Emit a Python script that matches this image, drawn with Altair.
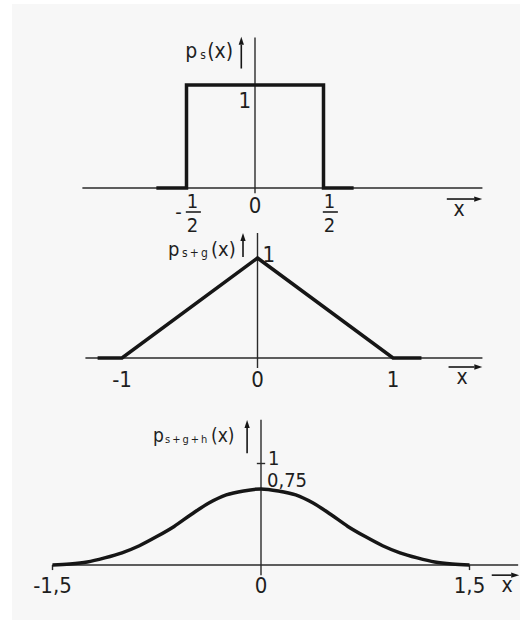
import altair as alt
import pandas as pd

# ---------------- data ----------------
# p_s(x): rectangular density on [-1/2, 1/2]
rect_x = [-0.72, -0.5, -0.5, 0.5, 0.5, 0.72]
rect_y = [0.0, 0.0, 1.0, 1.0, 0.0, 0.0]

# p_{s+g}(x): triangular density on [-1, 1]
tri_x = [-1.18, -1.0, 0.0, 1.0, 1.21]
tri_y = [0.0, 0.0, 1.0, 0.0, 0.0]

# p_{s+g+h}(x): bell shaped density on [-1.5, 1.5]
bell_x = [-1.5, -1.375, -1.25, -1.125, -1.0, -0.875, -0.75, -0.625, -0.5, -0.375,
          -0.25, -0.125, 0.0, 0.125, 0.25, 0.375, 0.5, 0.625, 0.75, 0.875,
          1.0, 1.125, 1.25, 1.375, 1.5]
bell_y = [0.0, 0.01, 0.03, 0.07, 0.12, 0.19, 0.28, 0.38, 0.5, 0.61,
          0.69, 0.73, 0.75, 0.73, 0.69, 0.61, 0.5, 0.38, 0.28, 0.19,
          0.12, 0.07, 0.03, 0.01, 0.0]

# tick labels on the x axes
ticks1 = [-0.5, 0.5]          # drawn as stacked fractions 1/2
ticks2 = [-1.0, 0.0, 1.0]
labels2 = ["-1", "0", "1"]
ticks3 = [-1.5, 0.0, 1.5]
labels3 = ["-1,5", "0", "1,5"]

# axis extents (data units)
xaxis1 = (-1.26, 1.66)
xaxis2 = (-1.27, 1.66)
xaxis3 = (-1.5, 1.85)
yaxis1 = (-0.05, 1.46)
yaxis2 = (-0.10, 1.25)
yaxis3 = (-0.10, 1.43)

FONT = "Liberation Sans Narrow, DejaVu Sans Condensed, Liberation Sans, sans-serif"
INK = "#161616"
AXIS = "#2a2a2a"
W = 508

UP = "M0,-1L0.33,0L-0.33,0Z"
RIGHT = "M1,0L0,-0.33L0,0.33Z"


def doms(zero_px, ppu_x, base_px, ppu_y, height):
    xd = [-zero_px / ppu_x, (W - zero_px) / ppu_x]
    yd = [-(height - base_px) / ppu_y, base_px / ppu_y]
    return xd, yd


def enc_x(field, dom):
    return alt.X(field, type="quantitative",
                 scale=alt.Scale(domain=dom, nice=False, zero=False), axis=None)


def enc_y(field, dom):
    return alt.Y(field, type="quantitative",
                 scale=alt.Scale(domain=dom, nice=False, zero=False), axis=None)


def curve(xs, ys, xd, yd, interp="linear"):
    df = pd.DataFrame({"x": xs, "y": ys, "i": range(len(xs))})
    return alt.Chart(df).mark_line(color=INK, strokeWidth=3.5, interpolate=interp,
                                   strokeJoin="miter").encode(
        x=enc_x("x", xd), y=enc_y("y", yd), order="i:Q")


def hrule(x0, x1, y, xd, yd, width=1.4, color=AXIS):
    df = pd.DataFrame({"x": x0 if isinstance(x0, list) else [x0],
                       "x2": x1 if isinstance(x1, list) else [x1]})
    df["y"] = y
    return alt.Chart(df).mark_rule(color=color, strokeWidth=width).encode(
        x=enc_x("x", xd), x2="x2", y=enc_y("y", yd))


def vrule(x, y0, y1, xd, yd, width=1.4, color=AXIS):
    df = pd.DataFrame({"x": [x], "y": [y0], "y2": [y1]})
    return alt.Chart(df).mark_rule(color=color, strokeWidth=width).encode(
        x=enc_x("x", xd), y=enc_y("y", yd), y2="y2")


def head(x, y, shape, xd, yd, size=256):
    df = pd.DataFrame({"x": [x], "y": [y]})
    return alt.Chart(df).mark_point(shape=shape, filled=True, size=size, color=INK,
                                    opacity=1, strokeWidth=0).encode(
        x=enc_x("x", xd), y=enc_y("y", yd))


def text(xs, ys, ts, xd, yd, size=22, align="center", baseline="alphabetic",
         dx=0, dy=0):
    df = pd.DataFrame({"x": xs, "y": ys, "t": ts})
    return alt.Chart(df).mark_text(font=FONT, fontSize=size, color="#1e1e1e",
                                   align=align, baseline=baseline, dx=dx, dy=dy).encode(
        x=enc_x("x", xd), y=enc_y("y", yd), text="t:N")


def ylabel(x, y, sub, xd, yd, size, sub_size, sub_dx, par_dx):
    return [
        text([x], [y], ["p"], xd, yd, size=size, align="left"),
        text([x], [y], [sub], xd, yd, size=sub_size, align="left", dx=sub_dx, dy=1),
        text([x], [y], ["(x)"], xd, yd, size=size, align="left", dx=par_dx),
    ]


def yarrow(x, y0, y1, xd, yd):
    return [
        vrule(x, y0, y1, xd, yd, width=1.6, color=INK),
        head(x, y1, UP, xd, yd),
    ]


def xlabel(x0, x1, y, xt, xd, yd):
    return [
        hrule(x0, x1, y, xd, yd, width=1.6, color=INK),
        head(x1, y, RIGHT, xd, yd),
        text([xt], [y], ["x"], xd, yd, size=21, dy=17),
    ]


# ---------------- panel 1 ----------------
H1 = 232
xd1, yd1 = doms(243, 137, 184, 103, H1)
p1 = alt.layer(
    hrule(*xaxis1, 0, xd1, yd1),
    vrule(0, *yaxis1, xd1, yd1),
    curve(rect_x, rect_y, xd1, yd1),
    text([0], [0], ["0"], xd1, yd1, dy=25),
    text(ticks1, [0, 0], ["1", "1"], xd1, yd1, size=20, dx=6, dy=20),
    hrule([t - 0.005 for t in ticks1], [t + 0.105 for t in ticks1], -0.233,
          xd1, yd1, width=1.6, color="#1e1e1e"),
    text(ticks1, [0, 0], ["2", "2"], xd1, yd1, size=20, dx=6, dy=44),
    text([-0.5], [0], ["-"], xd1, yd1, size=20, dx=-8, dy=31),
    text([0], [1], ["1"], xd1, yd1, align="right", dx=-4, dy=23),
    *yarrow(-0.10, 1.16, 1.39, xd1, yd1),
    *ylabel(-0.51, 1.26, "s", xd1, yd1, 21, 12, 15, 22),
    *xlabel(1.40, 1.60, -0.107, 1.49, xd1, yd1),
).properties(width=W, height=H1)

# ---------------- panel 2 ----------------
H2 = 164
xd2, yd2 = doms(245.5, 135.5, 122, 100, H2)
p2 = alt.layer(
    hrule(*xaxis2, 0, xd2, yd2),
    vrule(0, *yaxis2, xd2, yd2),
    curve(tri_x, tri_y, xd2, yd2),
    text(ticks2, [0] * len(ticks2), labels2, xd2, yd2, dy=29),
    text([0], [1], ["1"], xd2, yd2, align="left", dx=5, dy=4),
    *yarrow(-0.107, 1.01, 1.17, xd2, yd2),
    *ylabel(-0.66, 1.02, "s\u2009+\u2009g", xd2, yd2, 20, 12, 14, 43),
    *xlabel(1.41, 1.60, -0.09, 1.51, xd2, yd2),
).properties(width=W, height=H2)

# ---------------- panel 3 ----------------
H3 = 220
xd3, yd3 = doms(249, 139, 165, 101.5, H3)
p3 = alt.layer(
    hrule(*xaxis3, 0, xd3, yd3),
    vrule(0, *yaxis3, xd3, yd3),
    hrule(-0.03, 0.03, 1.0, xd3, yd3),
    vrule(-1.5, 0, -0.05, xd3, yd3),
    vrule(1.5, 0, -0.05, xd3, yd3),
    curve(bell_x, bell_y, xd3, yd3, interp="monotone"),
    text(ticks3, [0] * len(ticks3), labels3, xd3, yd3, dy=28),
    text([0], [1], ["1"], xd3, yd3, size=20, align="left", dx=7, dy=1),
    text([0], [0.75], ["0,75"], xd3, yd3, size=20, align="left", dx=6, dy=-2),
    *yarrow(-0.10, 1.10, 1.35, xd3, yd3),
    *ylabel(-0.777, 1.21, "s\u2009+\u2009g\u2009+\u2009h", xd3, yd3, 19, 11, 12, 58),
    *xlabel(1.66, 1.80, -0.10, 1.77, xd3, yd3),
).properties(width=W, height=H3)

chart = alt.vconcat(p1, p2, p3, spacing=0, bounds="flush").properties(
    padding={"left": 12, "top": 4, "right": 0, "bottom": 3},
    background="white",
).configure_view(stroke=None, fill="#f7f7f7")

chart.save("out.html", embed_options={"renderer": "svg", "actions": False})
